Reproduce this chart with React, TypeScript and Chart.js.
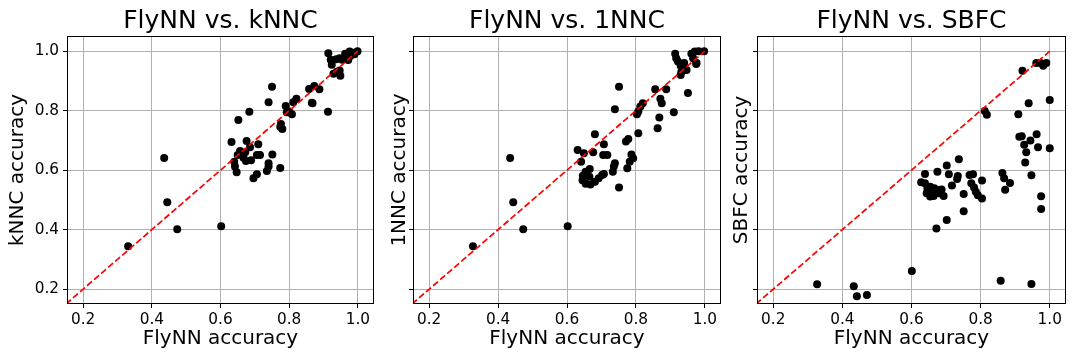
import React, { useEffect, useRef } from "react";
import { Chart, registerables } from "chart.js";

Chart.register(...registerables);

const FONT = "'DejaVu Sans', sans-serif";

// Axis settings (shared by all panels)
const X_MIN = 0.153;
const X_MAX = 1.047;
const Y_MIN = 0.15;
const Y_MAX = 1.051;
const TICK_STEP = 0.2;
const DIAGONAL = [0.15, 1.0];
const X_LABEL = "FlyNN accuracy";

// Panel 1: FlyNN vs. kNNC
const knncFlyX = [
  0.331, 0.436, 0.445, 0.474, 0.602, 0.632, 0.652, 0.684, 0.74, 0.75,
  0.676, 0.71, 0.686, 0.657, 0.672, 0.65, 0.667, 0.674, 0.689, 0.706,
  0.715, 0.751, 0.64, 0.642, 0.647, 0.74, 0.74, 0.735, 0.774, 0.706,
  0.696, 0.774, 0.78, 0.776, 0.79, 0.8, 0.808, 0.821, 0.812, 0.793,
  0.868, 0.866, 0.913, 0.858, 0.873, 0.888, 0.914, 0.921, 0.924, 0.937,
  0.947, 0.954, 0.929, 0.939, 0.949, 0.947, 0.963, 0.976, 0.987, 0.999,
  0.978, 0.968, 0.972, 0.99,
];
const knncAcc = [
  0.344, 0.641, 0.492, 0.401, 0.411, 0.695, 0.769, 0.796, 0.828, 0.88,
  0.698, 0.687, 0.677, 0.664, 0.66, 0.651, 0.642, 0.631, 0.633, 0.651,
  0.651, 0.653, 0.628, 0.612, 0.593, 0.623, 0.612, 0.597, 0.607, 0.586,
  0.573, 0.746, 0.738, 0.755, 0.816, 0.797, 0.788, 0.84, 0.828, 0.795,
  0.825, 0.827, 0.796, 0.873, 0.883, 0.872, 0.993, 0.971, 0.954, 0.973,
  0.976, 0.971, 0.924, 0.931, 0.917, 0.935, 0.991, 0.999, 0.995, 1.0,
  0.984, 0.984, 0.97, 0.99,
];

// Panel 2: FlyNN vs. 1NNC
const onenncFlyX = [
  0.327, 0.435, 0.444, 0.473, 0.602, 0.751, 0.739, 0.681, 0.631, 0.649,
  0.641, 0.676, 0.707, 0.705, 0.717, 0.771, 0.778, 0.807, 0.787, 0.792,
  0.782, 0.775, 0.739, 0.736, 0.733, 0.751, 0.666, 0.654, 0.646, 0.645,
  0.654, 0.668, 0.681, 0.692, 0.702, 0.707, 0.665, 0.82, 0.813, 0.807,
  0.803, 0.871, 0.875, 0.91, 0.868, 0.863, 0.856, 0.888, 0.914, 0.917,
  0.922, 0.93, 0.94, 0.932, 0.93, 0.947, 0.961, 0.971, 0.982, 0.998,
  0.966, 0.975, 0.951, 0.976,
];
const onenncAcc = [
  0.344, 0.641, 0.492, 0.401, 0.411, 0.88, 0.805, 0.721, 0.668, 0.657,
  0.628, 0.66, 0.687, 0.651, 0.651, 0.696, 0.705, 0.724, 0.653, 0.64,
  0.628, 0.606, 0.623, 0.612, 0.595, 0.542, 0.604, 0.595, 0.581, 0.566,
  0.554, 0.552, 0.561, 0.573, 0.584, 0.587, 0.578, 0.825, 0.814, 0.797,
  0.788, 0.84, 0.825, 0.795, 0.777, 0.741, 0.872, 0.872, 0.991, 0.976,
  0.965, 0.951, 0.96, 0.931, 0.92, 0.937, 0.991, 0.999, 1.0, 1.0,
  0.976, 0.957, 0.859, 0.96,
];

// Panel 3: FlyNN vs. SBFC
const sbfcFlyX = [
  0.327, 0.433, 0.442, 0.471, 0.601, 0.858, 0.947, 0.672, 0.702, 0.751,
  0.975, 0.975, 0.921, 0.961, 0.973, 0.981, 0.99, 0.939, 1.0, 0.812,
  0.818, 0.909, 0.912, 0.919, 0.944, 0.962, 0.926, 0.966, 1.0, 0.932,
  0.929, 0.947, 0.737, 0.702, 0.675, 0.639, 0.628, 0.708, 0.734, 0.732,
  0.768, 0.778, 0.804, 0.717, 0.751, 0.773, 0.781, 0.786, 0.792, 0.804,
  0.863, 0.868, 0.885, 0.871, 0.639, 0.646, 0.644, 0.654, 0.658, 0.666,
  0.675, 0.68, 0.687, 0.693, 0.664, 0.654,
];
const sbfcAcc = [
  0.216, 0.21, 0.176, 0.18, 0.261, 0.228, 0.217, 0.404, 0.432, 0.462,
  0.469, 0.512, 0.934, 0.96, 0.96, 0.951, 0.96, 0.825, 0.836, 0.799,
  0.786, 0.788, 0.712, 0.714, 0.7, 0.721, 0.685, 0.677, 0.674, 0.66,
  0.626, 0.583, 0.637, 0.616, 0.595, 0.587, 0.559, 0.586, 0.58, 0.57,
  0.584, 0.586, 0.565, 0.548, 0.52, 0.556, 0.542, 0.527, 0.516, 0.505,
  0.59, 0.573, 0.557, 0.534, 0.556, 0.539, 0.522, 0.511, 0.527, 0.539,
  0.533, 0.522, 0.535, 0.513, 0.513, 0.544,
];

type PanelCfg = {
  title: string;
  yLabel: string;
  xs: number[];
  ys: number[];
  left: number;
  width: number;
  yAxisWidth: number;
  padRight: number;
  yTitlePad: number;
  showYLabels: boolean;
};

const PANELS: PanelCfg[] = [
  { title: "FlyNN vs. kNNC", yLabel: "kNNC accuracy", xs: knncFlyX, ys: knncAcc, left: 0, width: 380, yAxisWidth: 67, padRight: 6, yTitlePad: 8.1, showYLabels: true },
  { title: "FlyNN vs. 1NNC", yLabel: "1NNC accuracy", xs: onenncFlyX, ys: onenncAcc, left: 380, width: 350, yAxisWidth: 33, padRight: 9, yTitlePad: 9.8, showYLabels: false },
  { title: "FlyNN vs. SBFC", yLabel: "SBFC accuracy", xs: sbfcFlyX, ys: sbfcAcc, left: 730, width: 350, yAxisWidth: 27, padRight: 14, yTitlePad: 1.4, showYLabels: false },
];

const spinePlugin = {
  id: "spines",
  afterDraw(chart: any) {
    const { ctx, chartArea: a } = chart;
    ctx.save();
    ctx.strokeStyle = "#000";
    ctx.lineWidth = 1;
    const l = Math.round(a.left) + 0.5;
    const t = Math.round(a.top) + 0.5;
    const r = Math.round(a.right) - 0.5;
    const b = Math.round(a.bottom) - 0.5;
    ctx.strokeRect(l, t, r - l, b - t);
    ctx.restore();
  },
};

function Panel({ cfg }: { cfg: PanelCfg }) {
  const ref = useRef<HTMLCanvasElement>(null);
  useEffect(() => {
    const fmt = (v: any) => Number(v).toFixed(1);
    const chart = new Chart(ref.current as HTMLCanvasElement, {
      type: "scatter",
      data: {
        datasets: [
          {
            type: "line",
            data: DIAGONAL.map((v) => ({ x: v, y: v })),
            borderColor: "#ff0000",
            borderWidth: 1.7,
            borderDash: [6.5, 2.8],
            pointRadius: 0,
            fill: false,
            order: 0,
          } as any,
          {
            type: "scatter",
            data: cfg.xs.map((x, i) => ({ x, y: cfg.ys[i] })),
            backgroundColor: "#000",
            borderWidth: 0,
            pointRadius: 4,
            order: 1,
          } as any,
        ],
      },
      options: {
        responsive: false,
        animation: false,
        devicePixelRatio: 1,
        events: [],
        layout: { padding: { left: 0, right: cfg.padRight, top: 0, bottom: 0 } },
        plugins: {
          legend: { display: false },
          tooltip: { enabled: false },
          title: {
            display: true,
            text: cfg.title,
            fullSize: false,
            color: "#000",
            font: { family: FONT, size: 25, weight: "normal", lineHeight: 1 },
            padding: { top: 8.9, bottom: 2.1 },
          },
        },
        scales: {
          x: {
            type: "linear",
            min: X_MIN,
            max: X_MAX,
            afterFit: (s: any) => {
              s.height = 56;
            },
            ticks: {
              stepSize: TICK_STEP,
              includeBounds: false,
              callback: fmt,
              color: "#000",
              font: { family: FONT, size: 15.3 },
              padding: 3,
              maxRotation: 0,
              autoSkip: false,
            },
            grid: { color: "#b0b0b0", tickColor: "#000", tickLength: 4, lineWidth: 1 },
            border: { display: false },
            title: {
              display: true,
              text: X_LABEL,
              color: "#000",
              font: { family: FONT, size: 20, lineHeight: 1 },
              padding: { top: 0, bottom: 11 },
            },
          },
          y: {
            type: "linear",
            min: Y_MIN,
            max: Y_MAX,
            afterFit: (s: any) => {
              s.width = cfg.yAxisWidth;
            },
            ticks: {
              stepSize: TICK_STEP,
              includeBounds: false,
              callback: cfg.showYLabels ? fmt : () => "",
              color: "#000",
              font: { family: FONT, size: 15.3 },
              padding: 4,
              autoSkip: false,
            },
            grid: { color: "#b0b0b0", tickColor: "#000", tickLength: 4, lineWidth: 1 },
            border: { display: false },
            title: {
              display: true,
              text: cfg.yLabel,
              color: "#000",
              font: { family: FONT, size: 20, lineHeight: 1 },
              padding: { top: cfg.yTitlePad, bottom: 0 },
            },
          },
        },
      } as any,
      plugins: [spinePlugin],
    });
    return () => chart.destroy();
  }, [cfg]);
  return (
    <canvas
      ref={ref}
      width={cfg.width}
      height={360}
      style={{ position: "absolute", left: cfg.left, top: 0, width: cfg.width, height: 360 }}
    />
  );
}

export default function App() {
  return (
    <div style={{ position: "absolute", left: 0, top: 0, width: 1080, height: 360, background: "#fff", overflow: "hidden" }}>
      {PANELS.map((p) => (
        <Panel key={p.title} cfg={p} />
      ))}
    </div>
  );
}
